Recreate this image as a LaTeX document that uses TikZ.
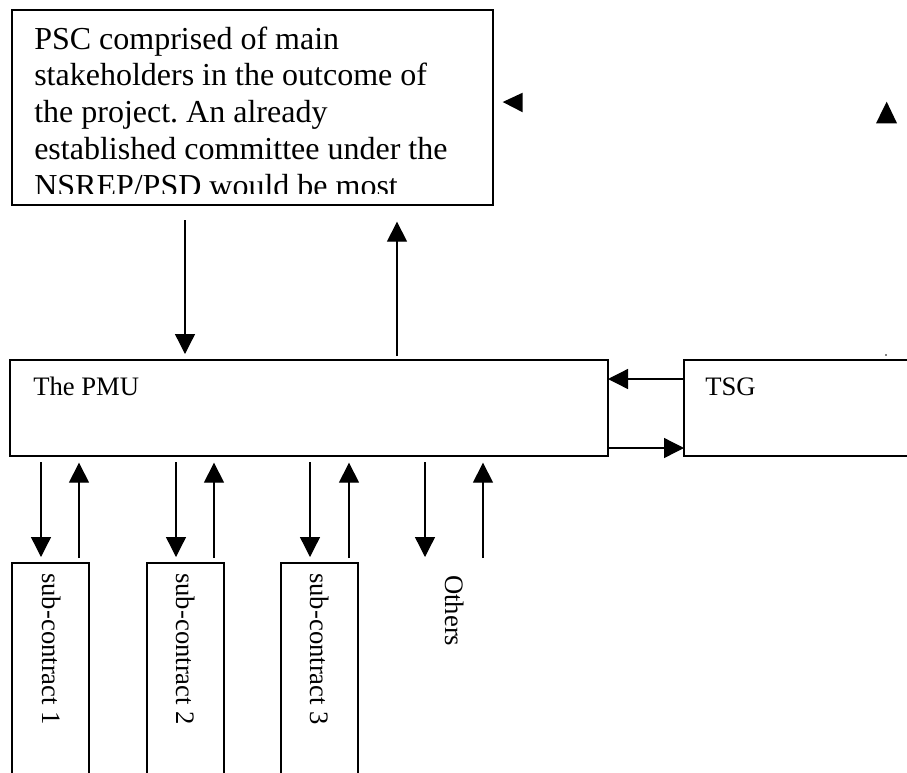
\documentclass[tikz,border=0pt]{standalone}
\usepackage{fontspec}
\setmainfont{Liberation Serif}
\usetikzlibrary{arrows.meta,fit}
\frenchspacing
\begin{document}
\begin{tikzpicture}[x=0.75pt,y=-0.75pt,
  box/.style={draw, line width=1pt, inner sep=0pt, outer sep=0pt},
  flow/.style={line width=1pt, -{Triangle[length=15pt,width=15pt]}},
  lbl/.style={inner sep=0pt, anchor=base west, font=\fontsize{20}{24}\selectfont},
  bigline/.style={inner sep=0pt, anchor=base west, font=\fontsize{24}{27.5}\selectfont}]
% page frame
\clip (0,0) rectangle (907,772);
\fill[white] (0,0) rectangle (907,772);

% boxes
\node[box, fit={(12,10) (493,205)}] (psc) {};
\node[box, fit={(10,360) (608,456)}] (pmu) {};
\node[box, fit={(684,360) (940,456)}] (tsg) {};
\node[box, fit={(12,563) (89,800)}] (sub1) {};
\node[box, fit={(147,563) (224,800)}] (sub2) {};
\node[box, fit={(281,563) (358,800)}] (sub3) {};
\coordinate (oth) at (454,563);

% steering committee text, cut off at the bottom of its frame
\begin{scope}
  \clip (12,10) rectangle (493,193);
  \foreach \t [count=\i] in {PSC comprised of main,
      stakeholders in the outcome of,
      the project. An already,
      established committee under the,
      NSREP/PSD would be most}
    \node[bigline] (psc line \i) at (34,{49+36.8*(\i-1)}) {\t};
\end{scope}

% labels
\node[lbl] (pmu label) at (33,395) {The PMU};
\node[lbl] (tsg label) at (705,395) {TSG};
\node[lbl, rotate=-90] (sub1 label) at (42,573) {sub-contract 1};
\node[lbl, rotate=-90] (sub2 label) at (176,573) {sub-contract 2};
\node[lbl, rotate=-90] (sub3 label) at (310,573) {sub-contract 3};
\node[lbl, rotate=-90] (others label) at (445,575) {Others};

% PSC <-> PMU
\draw[flow, shorten <=11.25pt, shorten >=4.5pt] (185,0 |- psc.south) -- (185,0 |- pmu.north);
\draw[flow, shorten <=3pt, shorten >=12.5pt] (397,0 |- pmu.north) -- (397,0 |- psc.south);

% PMU <-> TSG
\draw[flow] (tsg.west |- 0,379) -- (pmu.east |- 0,379);
\draw[flow] (pmu.east |- 0,448) -- (tsg.west |- 0,448);

% PMU <-> sub-contracts and others
\foreach \dx/\ux/\tgt in {41/79/sub1, 176/214/sub2, 310/349/sub3, 425/483/oth} {
  \draw[flow, shorten <=4.5pt, shorten >=4.5pt] (\dx,0 |- pmu.south) -- (\dx,0 |- \tgt.north);
  \draw[flow, shorten <=3.75pt, shorten >=5pt] (\ux,0 |- \tgt.north) -- (\ux,0 |- pmu.south);
}

% loose arrow heads
\fill (502.7,102) -- (522.7,92.7) -- (522.7,112.3) -- cycle;
\fill (886.7,101.7) -- (876,123.3) -- (897,123.3) -- cycle;
\fill (886,355) circle[radius=0.6pt];
\end{tikzpicture}
\end{document}
